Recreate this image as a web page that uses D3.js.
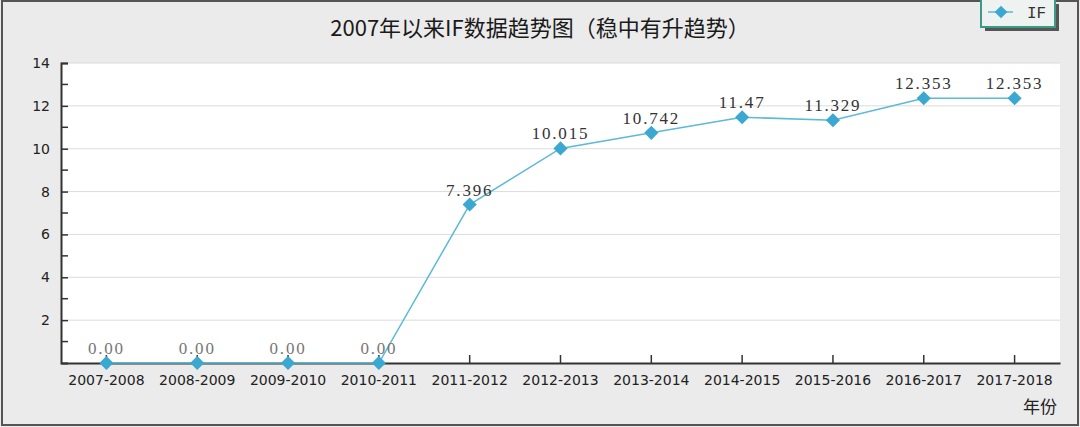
<!DOCTYPE html>
<html lang="zh">
<head>
<meta charset="utf-8">
<script src="https://d3js.org/d3.v7.min.js"></script>
<style>
  body { margin: 0; background: #fff; }
  svg { display: block; }
  .tick text { font-family: "DejaVu Sans", "Noto Sans", sans-serif; font-size: 14px; fill: #222; }
</style>
</head>
<body>
<div id="chart"></div>
<script>
// data
var years = ["2007-2008","2008-2009","2009-2010","2010-2011","2011-2012","2012-2013",
             "2013-2014","2014-2015","2015-2016","2016-2017","2017-2018"];
var ifValues = [0, 0, 0, 0, 7.396, 10.015, 10.742, 11.47, 11.329, 12.353, 12.353];
var ifLabels = ["0.00","0.00","0.00","0.00","7.396","10.015","10.742","11.47","11.329","12.353","12.353"];
var yTicks = [2, 4, 6, 8, 10, 12, 14];
var title = "2007年以来IF数据趋势图（稳中有升趋势）";

var W = 1080, H = 427;
var margin = {left: 61, right: 20, top: 63, bottom: 64};

var svg = d3.select('#chart').append('svg').attr('width', W).attr('height', H);

// background + frame
svg.append('rect').attr('x', 0).attr('y', 0).attr('width', W).attr('height', H).attr('fill', '#ebebeb');
svg.append('rect').attr('x', 2).attr('y', 1).attr('width', W - 4).attr('height', H - 3)
  .attr('fill', 'none').attr('stroke', '#555').attr('stroke-width', 2);

var x = d3.scaleBand().domain(years).range([margin.left, W - margin.right]);
var y = d3.scaleLinear().domain([0, 14]).range([H - margin.bottom, margin.top]);

// plot area
svg.append('rect').attr('x', margin.left).attr('y', y(14))
  .attr('width', W - margin.right - margin.left).attr('height', y(0) - y(14))
  .attr('fill', '#fff');

// grid
svg.append('g').selectAll('line').data(yTicks).enter().append('line')
  .attr('x1', margin.left).attr('x2', W - margin.right)
  .attr('y1', function(d){ return y(d); }).attr('y2', function(d){ return y(d); })
  .attr('stroke', '#dcdcdc').attr('stroke-width', 1);

// y axis (ticks point inward)
var yAxis = svg.append('g').attr('transform', 'translate(' + margin.left + ',0)')
  .call(d3.axisLeft(y).tickValues(yTicks).tickSize(-7).tickPadding(11).tickFormat(d3.format('d')));
yAxis.select('.domain').attr('stroke', '#333').attr('stroke-width', 2);
yAxis.selectAll('.tick line').attr('stroke', '#333').attr('stroke-width', 1.5);
// minor ticks
svg.append('g').selectAll('line').data(d3.range(1, 14, 2)).enter().append('line')
  .attr('x1', margin.left).attr('x2', margin.left + 7)
  .attr('y1', function(d){ return y(d); }).attr('y2', function(d){ return y(d); })
  .attr('stroke', '#333').attr('stroke-width', 1.5);

// x axis (ticks point up)
var xAxis = svg.append('g').attr('transform', 'translate(0,' + y(0) + ')')
  .call(d3.axisBottom(x).tickSize(-8).tickPadding(12).tickSizeOuter(0));
xAxis.select('.domain').attr('stroke', '#333').attr('stroke-width', 2);
xAxis.selectAll('.tick line').attr('stroke', '#333').attr('stroke-width', 1.5);

svg.append('text').attr('x', 1057).attr('y', 413).attr('text-anchor', 'end')
  .style('font-family', '"Noto Sans CJK SC", sans-serif').style('font-size', '17px')
  .attr('fill', '#222').text('年份');

// title
svg.append('text').attr('x', 540).attr('y', 36).attr('text-anchor', 'middle')
  .style('font-family', '"Noto Sans CJK SC", sans-serif').style('font-size', '22px')
  .attr('fill', '#1a1a1a').text(title);

// line
var cx = function(i){ return x(years[i]) + x.bandwidth() / 2; };
var line = d3.line().x(function(d, i){ return cx(i); }).y(function(d){ return y(d); });
svg.append('path').datum(ifValues).attr('d', line)
  .attr('fill', 'none').attr('stroke', '#5bbad6').attr('stroke-width', 1.5);

svg.append('g').selectAll('path').data(ifValues).enter().append('path')
  .attr('d', d3.symbol().type(d3.symbolSquare).size(100))
  .attr('transform', function(d, i){ return 'translate(' + cx(i) + ',' + y(d) + ') rotate(45)'; })
  .attr('fill', '#3aa8d0');

svg.append('g').selectAll('text').data(ifValues).enter().append('text')
  .attr('x', function(d, i){ return cx(i); })
  .attr('y', function(d){ return y(d) - 9; })
  .attr('text-anchor', 'middle')
  .style('font-family', '"Liberation Serif", "DejaVu Serif", serif').style('font-size', '17px')
  .style('letter-spacing', '1.8px')
  .attr('fill', function(d){ return d === 0 ? '#777' : '#333'; })
  .text(function(d, i){ return ifLabels[i]; });

// legend
var lg = svg.append('g').attr('transform', 'translate(981,0)');
lg.append('rect').attr('x', 4).attr('y', 4).attr('width', 74).attr('height', 27).attr('fill', '#555');
lg.append('rect').attr('x', 0).attr('y', -2).attr('width', 74).attr('height', 29)
  .attr('fill', '#eef2f0').attr('stroke', '#3a9b86').attr('stroke-width', 2);
lg.append('line').attr('x1', 7).attr('x2', 32).attr('y1', 12).attr('y2', 12)
  .attr('stroke', '#5bbad6').attr('stroke-width', 1.5);
lg.append('path').attr('d', d3.symbol().type(d3.symbolSquare).size(80))
  .attr('transform', 'translate(20,12) rotate(45)').attr('fill', '#3aa8d0');
lg.append('text').attr('x', 46).attr('y', 18)
  .style('font-family', '"Liberation Mono", monospace').style('font-size', '16px')
  .attr('fill', '#333').text('IF');
</script>
</body>
</html>
